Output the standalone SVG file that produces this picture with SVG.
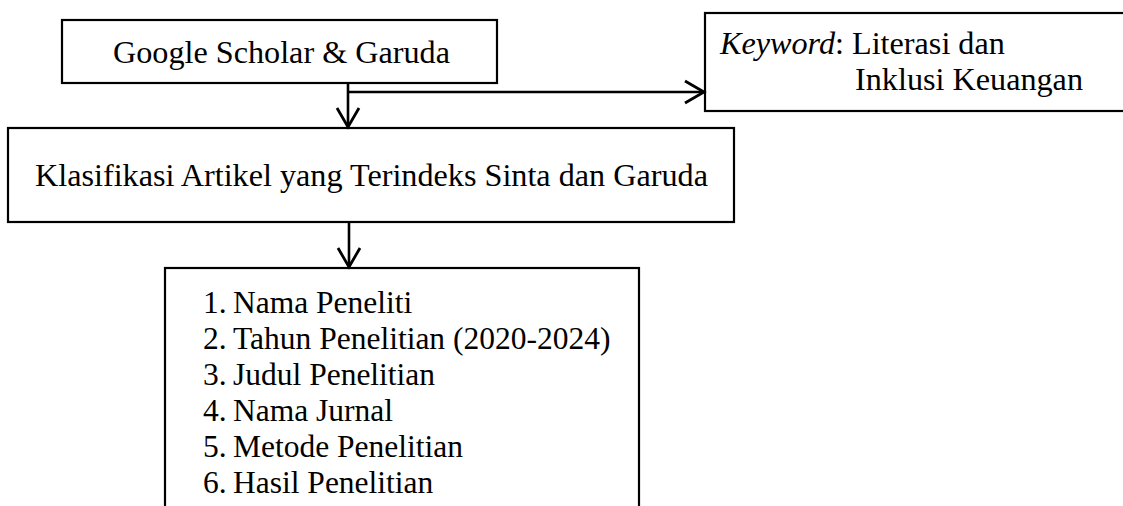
<svg xmlns="http://www.w3.org/2000/svg" width="1123" height="506" viewBox="0 0 1123 506">
<defs>
<style>
.box{fill:#fff;stroke:#000;stroke-width:2.2}
.t{font-family:"Liberation Serif","Times New Roman",serif;font-size:31.5px;fill:#000}
.tb{font-size:32.2px}
.c{fill:none;stroke:#000;stroke-width:2.6}
</style>
<marker id="ah" viewBox="0 0 26 26" refX="23" refY="13" markerWidth="26" markerHeight="26" markerUnits="userSpaceOnUse" orient="auto">
<path d="M4,2 L23,13 L4,24" fill="none" stroke="#000" stroke-width="2.8"/>
</marker>
</defs>
<rect width="1123" height="506" fill="#fff"/>
<g id="node-google">
<rect class="box" x="62" y="20" width="435" height="63"/>
<text class="t tb" x="113" y="63">Google Scholar &amp; Garuda</text>
</g>
<g id="node-keyword">
<rect class="box" x="705" y="13" width="425" height="98"/>
<text class="t tb" x="720" y="54"><tspan font-style="italic">Keyword</tspan>: Literasi dan</text>
<text class="t tb" x="1083" y="90" text-anchor="end">Inklusi Keuangan</text>
</g>
<g id="node-klasifikasi">
<rect class="box" x="8" y="128" width="726" height="94"/>
<text class="t tb" x="35" y="186">Klasifikasi Artikel yang Terindeks Sinta dan Garuda</text>
</g>
<g id="node-list">
<rect class="box" x="165" y="268" width="474" height="250"/>
<text class="t" x="203" y="313">1.</text><text class="t" x="233" y="313">Nama Peneliti</text>
<text class="t" x="203" y="349">2.</text><text class="t" x="233" y="349">Tahun Penelitian (2020-2024)</text>
<text class="t" x="203" y="385">3.</text><text class="t" x="233" y="385">Judul Penelitian</text>
<text class="t" x="203" y="421">4.</text><text class="t" x="233" y="421">Nama Jurnal</text>
<text class="t" x="203" y="457">5.</text><text class="t" x="233" y="457">Metode Penelitian</text>
<text class="t" x="203" y="493">6.</text><text class="t" x="233" y="493">Hasil Penelitian</text>
</g>
<g id="connectors">
<line class="c" x1="348" y1="83" x2="348" y2="127" marker-end="url(#ah)"/>
<line class="c" x1="348" y1="92" x2="704" y2="92" marker-end="url(#ah)"/>
<line class="c" x1="349" y1="222" x2="349" y2="267" marker-end="url(#ah)"/>
</g>
</svg>
